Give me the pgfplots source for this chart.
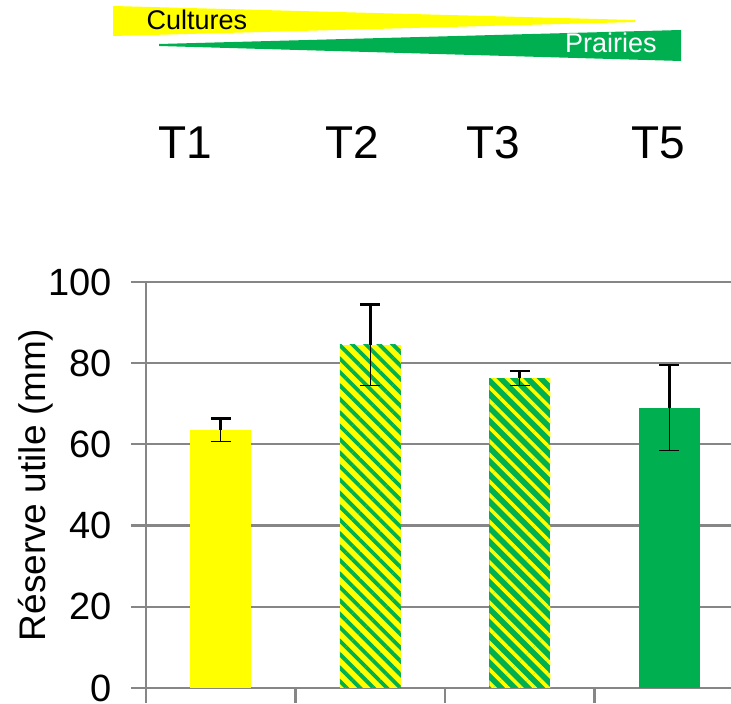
\documentclass[border=0pt]{standalone}
\usepackage{fontspec}
\setmainfont{Liberation Sans}
\usepackage{pgfplots}
\pgfplotsset{compat=1.18}
\usetikzlibrary{patterns.meta}
\definecolor{xlgreen}{RGB}{0,176,80}
\definecolor{xlyellow}{RGB}{255,255,0}
\definecolor{gridgray}{RGB}{134,134,134}
\begin{document}
\begin{tikzpicture}[x=1pt,y=1pt]
\path[use as bounding box] (0,0) rectangle (731,704);
\clip (0,0) rectangle (731,704);
\fill[xlyellow] (113,698)--(635,684)--(635,682)--(113,668)--cycle;
\fill[xlgreen] (159,660)--(681,674)--(681,643)--(159,658)--cycle;
\node[anchor=base west,inner sep=0,font=\fontsize{27}{27}\selectfont] at (146.5,674.7) {Cultures};
\node[anchor=base west,inner sep=0,text=white,font=\fontsize{27}{27}\selectfont] at (565,651) {Prairies};
\foreach \x/\t in {185/T1,352/T2,493/T3,658/T5}
  \node[anchor=base,inner sep=0,font=\fontsize{46}{46}\selectfont] at (\x,545) {\t};
\begin{axis}[
  scale only axis, width=598pt, height=406pt,
  at={(146pt,16pt)}, anchor=south west,
  xmin=-0.5, xmax=3.5, ymin=0, ymax=100,
  axis x line*=bottom, axis y line*=left,
  axis line style={gridgray, line width=2.2pt},
  xtick={-0.5,0.5,1.5,2.5,3.5}, xticklabels={},
  ytick={0,20,...,100},
  ymajorgrids, major grid style={gridgray, line width=2.2pt},
  tick align=outside, major tick length=15pt,
  tick style={gridgray, line width=2.2pt},
  tick label style={font=\fontsize{38}{38}\selectfont},
  yticklabel style={xshift=-15.5pt},
  /pgf/number format/assume math mode=true,
  ylabel={Réserve utile (mm)},
  ylabel style={font=\fontsize{37}{37}\selectfont, at={(axis description cs:-0.184,0.5)}, anchor=center},
  ybar, bar width=61pt,
]
% thick error bars (partly hidden by bars)
\addplot[draw=none, fill=none, bar shift=0pt,
  error bars/.cd, y dir=both, y explicit, error mark=|,
  error bar style={draw=black, line width=2.6pt},
  error mark options={draw=black, mark size=10pt, line width=2.6pt}]
  coordinates {(0,63.6) +- (0,2.8) (1,84.5) +- (0,10) (2,76.3) +- (0,1.8) (3,69.0) +- (0,10.6)};
% T1
\addplot[fill=xlyellow, draw=none, bar shift=0pt] coordinates {(0,63.6)};
% T2
\addplot[fill=xlyellow, draw=none, bar shift=0pt] coordinates {(1,84.5)};
\addplot[pattern={Lines[angle=-45,distance=9.5pt,line width=3.8pt]}, pattern color=xlgreen, draw=none, bar shift=0pt] coordinates {(1,84.5)};
% T3
\addplot[fill=xlgreen, draw=none, bar shift=0pt] coordinates {(2,76.3)};
\addplot[pattern={Lines[angle=-45,distance=9.5pt,line width=3.6pt]}, pattern color=xlyellow, draw=none, bar shift=0pt] coordinates {(2,76.3)};
% T5
\addplot[fill=xlgreen, draw=none, bar shift=0pt] coordinates {(3,69.0)};
% thin error bars on top
\addplot[draw=none, fill=none, bar shift=0pt,
  error bars/.cd, y dir=both, y explicit, error mark=|,
  error bar style={draw=black, line width=1pt},
  error mark options={draw=black, mark size=10pt, line width=1.2pt}]
  coordinates {(0,63.6) +- (0,2.8) (1,84.5) +- (0,10) (2,76.3) +- (0,1.8) (3,69.0) +- (0,10.6)};
\end{axis}
\end{tikzpicture}
\end{document}
